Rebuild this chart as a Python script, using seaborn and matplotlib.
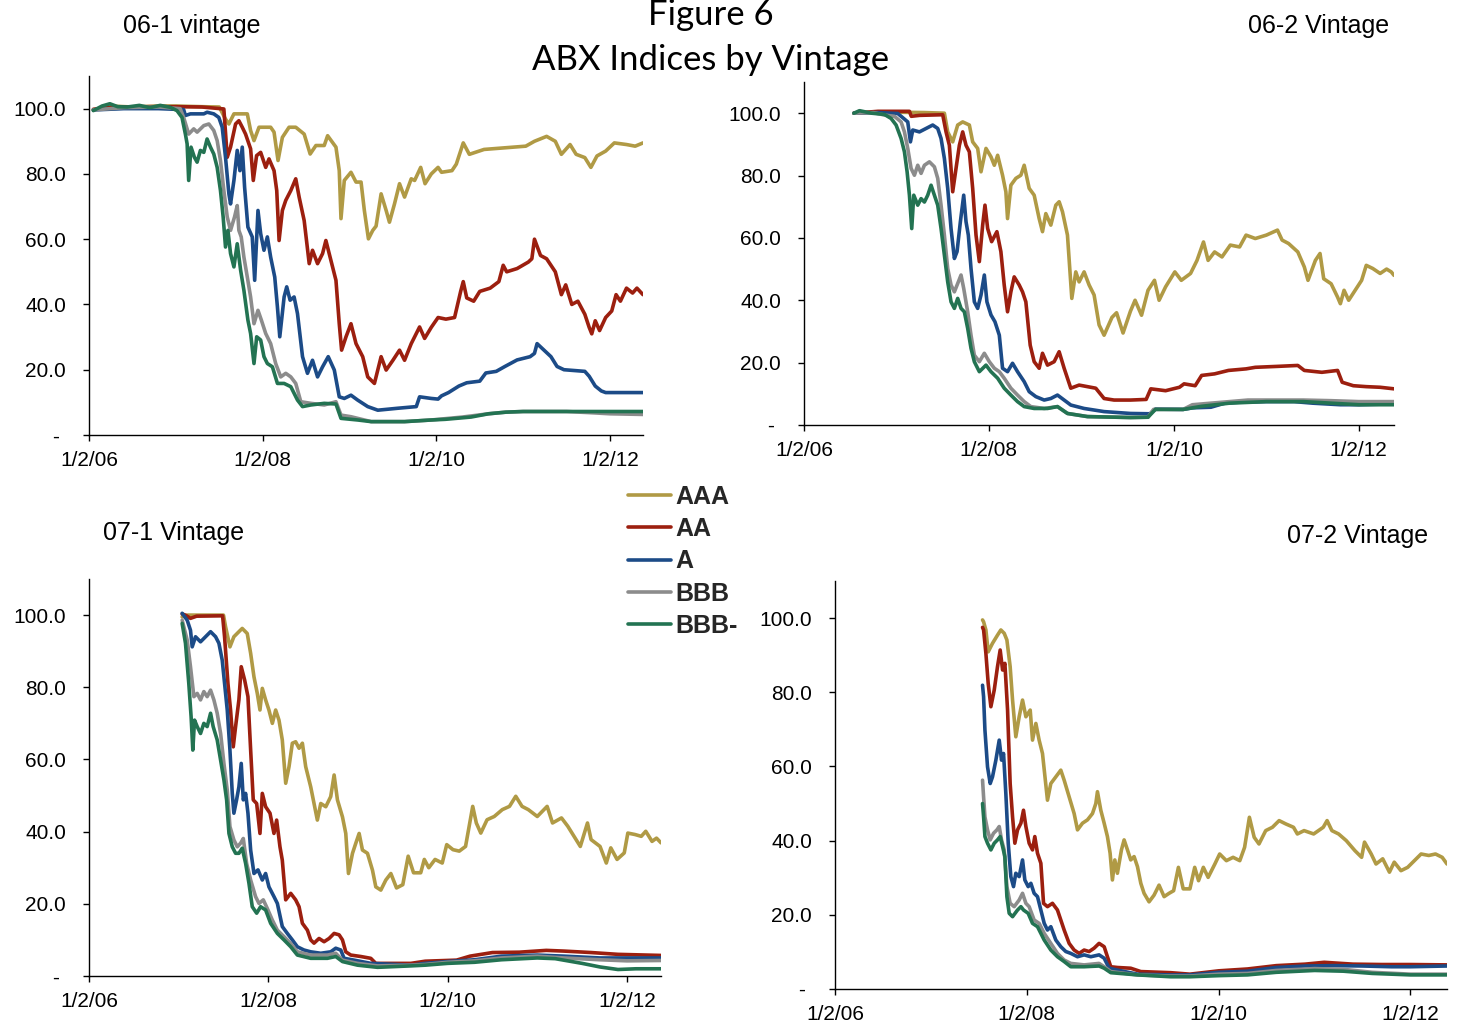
import matplotlib
matplotlib.use("Agg")
import matplotlib.pyplot as plt
import matplotlib.dates as mdates
from matplotlib.ticker import FuncFormatter, FixedLocator
import pandas as pd
import seaborn as sns

sns.set_theme(style="white")
plt.rcParams["font.family"] = ["Liberation Sans", "DejaVu Sans"]

# ---------------- data ----------------
SERIES = ["AAA", "AA", "A", "BBB", "BBB-"]
COLORS = ["#B09A45", "#9C1F0F", "#1C4B87", "#8C8C8C", "#237352"]
VINTAGES = ["06-1 vintage", "06-2 Vintage", "07-1 Vintage", "07-2 Vintage"]
TICK_DATES = ["2006-01-02", "2008-01-02", "2010-01-02", "2012-01-02"]
Y_TICKS = [0, 20, 40, 60, 80, 100]
SUPTITLE = ["Figure 6", "ABX Indices by Vintage"]
X_END = 2012.38  # last observation (decimal year)

# (decimal year, index price) pairs
P1_AAA = [(2006.05, 99.6), (2006.25, 100.8), (2006.5, 100.5), (2006.8, 100.8), (2007.0, 100.8), (2007.3, 100.6),
          (2007.5, 100.5), (2007.572, 96.8), (2007.611, 95.3), (2007.669, 98.4), (2007.823, 98.4), (2007.861, 93.3),
          (2007.9, 90.2), (2007.958, 94.3), (2008.092, 94.3), (2008.131, 92.8), (2008.177, 84.1), (2008.227, 91.2),
          (2008.304, 94.3), (2008.381, 94.3), (2008.478, 92.2), (2008.547, 86.1), (2008.613, 88.7), (2008.709, 88.7),
          (2008.748, 91.7), (2008.844, 88.2), (2008.882, 81.0), (2008.902, 66.3), (2008.94, 78.0), (2009.017, 80.5),
          (2009.075, 77.5), (2009.133, 77.5), (2009.171, 68.8), (2009.218, 60.1), (2009.268, 62.7), (2009.306, 64.0),
          (2009.364, 73.9), (2009.422, 68.8), (2009.46, 65.2), (2009.518, 70.8), (2009.576, 77.0), (2009.634, 72.9),
          (2009.711, 78.5), (2009.75, 78.0), (2009.82, 82.0), (2009.87, 77.0), (2009.942, 80.0), (2010.02, 82.0),
          (2010.06, 80.5), (2010.18, 81.0), (2010.23, 83.0), (2010.31, 89.5), (2010.38, 86.0), (2010.55, 87.5),
          (2010.79, 88.0), (2011.03, 88.5), (2011.13, 90.0), (2011.27, 91.5), (2011.37, 90.0), (2011.44, 86.0),
          (2011.54, 89.0), (2011.61, 86.0), (2011.71, 85.0), (2011.78, 82.0), (2011.85, 85.5), (2011.95, 87.0),
          (2012.05, 89.5), (2012.19, 89.0), (2012.29, 88.5), (2012.38, 89.5)]
P1_AA = [(2006.05, 99.8), (2006.3, 100.5), (2006.7, 100.6), (2007.0, 100.6), (2007.3, 100.5), (2007.553, 99.9),
         (2007.592, 85.1), (2007.63, 88.2), (2007.688, 95.3), (2007.726, 96.3), (2007.765, 94.3), (2007.803, 92.2),
         (2007.861, 87.7), (2007.892, 78.0), (2007.93, 85.6), (2007.977, 86.6), (2008.035, 82.0), (2008.073, 84.6),
         (2008.131, 81.0), (2008.162, 74.9), (2008.189, 59.6), (2008.227, 68.8), (2008.266, 71.9), (2008.324, 74.9),
         (2008.381, 78.5), (2008.42, 72.9), (2008.478, 65.7), (2008.536, 52.5), (2008.574, 56.6), (2008.632, 52.5),
         (2008.69, 55.6), (2008.728, 59.6), (2008.786, 53.5), (2008.844, 47.4), (2008.882, 34.1), (2008.909, 26.0),
         (2008.96, 30.1), (2009.017, 34.1), (2009.075, 28.0), (2009.152, 24.0), (2009.21, 17.8), (2009.287, 15.8),
         (2009.364, 24.0), (2009.422, 19.9), (2009.5, 22.9), (2009.576, 26.0), (2009.634, 22.9), (2009.711, 28.0),
         (2009.807, 33.1), (2009.865, 29.6), (2009.942, 33.0), (2010.02, 36.0), (2010.11, 35.5), (2010.21, 36.0),
         (2010.28, 44.0), (2010.31, 47.0), (2010.35, 42.0), (2010.43, 41.0), (2010.5, 44.0), (2010.62, 45.0),
         (2010.72, 47.0), (2010.77, 52.0), (2010.81, 50.0), (2010.93, 51.0), (2011.06, 53.0), (2011.1, 54.0),
         (2011.13, 60.0), (2011.2, 55.0), (2011.27, 54.0), (2011.37, 50.0), (2011.44, 43.0), (2011.49, 46.0),
         (2011.56, 40.0), (2011.63, 41.0), (2011.71, 37.0), (2011.76, 33.0), (2011.79, 31.0), (2011.83, 35.0),
         (2011.88, 32.0), (2011.95, 36.0), (2012.02, 38.0), (2012.07, 43.0), (2012.12, 41.0), (2012.19, 45.0),
         (2012.26, 43.5), (2012.31, 45.0), (2012.38, 43.0)]
P1_A = [(2006.05, 99.6), (2006.4, 100.0), (2006.8, 100.0), (2007.09, 99.7), (2007.11, 97.9), (2007.168, 98.4),
        (2007.322, 98.4), (2007.36, 98.9), (2007.437, 98.4), (2007.495, 97.3), (2007.534, 94.3), (2007.572, 85.1),
        (2007.611, 73.9), (2007.63, 70.8), (2007.669, 78.0), (2007.707, 87.2), (2007.738, 81.0), (2007.765, 88.2),
        (2007.792, 75.9), (2007.83, 63.7), (2007.88, 60.7), (2007.908, 47.4), (2007.946, 68.8), (2007.977, 61.7),
        (2008.015, 56.6), (2008.054, 60.7), (2008.092, 54.5), (2008.139, 48.4), (2008.17, 39.2), (2008.197, 30.1),
        (2008.247, 42.3), (2008.277, 45.4), (2008.316, 41.3), (2008.362, 42.3), (2008.401, 37.2), (2008.459, 24.0),
        (2008.516, 18.9), (2008.574, 22.9), (2008.632, 17.8), (2008.69, 20.9), (2008.755, 24.0), (2008.825, 19.9),
        (2008.882, 11.7), (2008.94, 11.2), (2009.017, 12.2), (2009.094, 10.7), (2009.21, 8.7), (2009.326, 7.6),
        (2009.557, 8.2), (2009.769, 8.7), (2009.807, 11.7), (2009.942, 11.2), (2010.02, 11.0), (2010.06, 12.0),
        (2010.14, 13.0), (2010.26, 15.0), (2010.35, 16.0), (2010.5, 16.5), (2010.57, 19.0), (2010.69, 19.5),
        (2010.79, 21.0), (2010.93, 23.0), (2011.08, 24.0), (2011.13, 25.0), (2011.16, 28.0), (2011.24, 26.0),
        (2011.32, 24.0), (2011.39, 21.0), (2011.47, 20.0), (2011.71, 19.5), (2011.76, 18.0), (2011.83, 15.0),
        (2011.9, 13.5), (2011.95, 13.0), (2012.38, 13.0)]
P1_BBB = [(2006.05, 99.6), (2006.4, 100.3), (2006.8, 100.5), (2007.05, 100.0), (2007.09, 97.3), (2007.148, 92.2),
          (2007.206, 93.8), (2007.245, 92.8), (2007.322, 94.8), (2007.38, 95.3), (2007.437, 93.3), (2007.476, 90.2),
          (2007.514, 84.1), (2007.553, 74.9), (2007.592, 66.8), (2007.63, 62.7), (2007.676, 66.8), (2007.707, 70.3),
          (2007.726, 62.7), (2007.753, 60.7), (2007.784, 54.5), (2007.823, 48.4), (2007.861, 42.3), (2007.9, 34.1),
          (2007.946, 38.2), (2007.985, 35.2), (2008.035, 31.1), (2008.092, 28.0), (2008.15, 21.9), (2008.208, 17.8),
          (2008.266, 18.9), (2008.324, 17.8), (2008.381, 15.8), (2008.439, 10.2), (2008.555, 9.7), (2008.709, 9.2),
          (2008.844, 10.2), (2008.902, 6.1), (2009.017, 5.6), (2009.249, 4.1), (2009.634, 4.1), (2009.942, 4.6),
          (2010.3, 5.5), (2010.6, 6.5), (2010.8, 7.0), (2011.0, 7.2), (2011.5, 7.2), (2011.8, 6.8), (2012.0, 6.5),
          (2012.38, 6.3)]
P1_BBBM = [(2006.05, 99.4), (2006.15, 100.8), (2006.24, 101.5), (2006.33, 100.6), (2006.44, 100.5), (2006.58, 101.0),
           (2006.7, 100.3), (2006.82, 101.0), (2006.936, 100.4), (2007.013, 99.4), (2007.071, 97.3), (2007.11, 92.2),
           (2007.13, 89.2), (2007.148, 78.0), (2007.175, 88.2), (2007.214, 85.1), (2007.245, 83.6), (2007.283, 87.2),
           (2007.322, 86.6), (2007.36, 90.7), (2007.399, 88.2), (2007.437, 86.1), (2007.476, 82.0), (2007.514, 74.9),
           (2007.545, 66.8), (2007.572, 57.6), (2007.6, 62.7), (2007.63, 55.6), (2007.669, 51.5), (2007.707, 58.6),
           (2007.746, 50.5), (2007.784, 44.3), (2007.83, 35.2), (2007.861, 31.1), (2007.9, 21.9), (2007.931, 30.1),
           (2007.977, 29.1), (2008.015, 24.0), (2008.054, 21.9), (2008.112, 20.9), (2008.17, 15.8), (2008.247, 15.8),
           (2008.324, 14.8), (2008.401, 10.7), (2008.459, 8.7), (2008.555, 9.2), (2008.709, 9.7), (2008.844, 9.5),
           (2008.902, 5.1), (2009.094, 4.6), (2009.249, 4.1), (2009.634, 4.1), (2009.942, 4.6), (2010.1, 4.8),
           (2010.4, 5.5), (2010.6, 6.5), (2010.8, 7.0), (2011.0, 7.2), (2012.38, 7.2)]

P2_AAA = [(2006.54, 100.0), (2006.8, 100.3), (2007.0, 100.3), (2007.3, 100.2), (2007.518, 100.0), (2007.554, 94.0),
          (2007.608, 90.8), (2007.662, 96.2), (2007.716, 97.2), (2007.788, 96.2), (2007.824, 90.8), (2007.878, 88.7),
          (2007.914, 81.2), (2007.968, 88.7), (2008.022, 86.0), (2008.058, 83.3), (2008.094, 86.5), (2008.147, 80.1),
          (2008.183, 74.8), (2008.201, 66.2), (2008.237, 76.9), (2008.291, 79.1), (2008.345, 80.1), (2008.381, 83.3),
          (2008.435, 75.9), (2008.489, 73.7), (2008.543, 66.2), (2008.579, 62.0), (2008.615, 67.8), (2008.669, 64.1),
          (2008.723, 70.5), (2008.759, 71.6), (2008.795, 68.4), (2008.849, 60.9), (2008.896, 40.6), (2008.939, 49.1),
          (2008.975, 45.9), (2009.029, 49.1), (2009.083, 44.9), (2009.137, 41.7), (2009.191, 32.1), (2009.245, 28.8),
          (2009.33, 34.5), (2009.38, 36.0), (2009.45, 29.5), (2009.53, 36.5), (2009.58, 40.0), (2009.65, 35.2),
          (2009.72, 43.2), (2009.79, 46.4), (2009.84, 40.0), (2009.91, 44.3), (2010.01, 49.1), (2010.08, 46.4),
          (2010.18, 48.6), (2010.25, 52.8), (2010.32, 58.7), (2010.37, 52.8), (2010.44, 55.5), (2010.52, 53.9),
          (2010.61, 57.7), (2010.71, 57.1), (2010.78, 60.9), (2010.88, 59.8), (2011.0, 60.9), (2011.12, 62.5),
          (2011.17, 59.3), (2011.24, 58.2), (2011.34, 55.5), (2011.41, 50.7), (2011.45, 46.4), (2011.53, 52.8),
          (2011.58, 55.0), (2011.62, 46.9), (2011.7, 45.3), (2011.77, 41.0), (2011.8, 38.9), (2011.84, 43.2),
          (2011.89, 40.0), (2011.96, 43.2), (2012.03, 46.4), (2012.08, 51.2), (2012.15, 50.2), (2012.23, 48.6),
          (2012.3, 50.0), (2012.35, 49.1), (2012.38, 48.0)]
P2_AA = [(2006.54, 100.0), (2006.8, 100.6), (2007.14, 100.6), (2007.16, 99.0), (2007.25, 99.3), (2007.5, 99.5),
         (2007.536, 94.0), (2007.572, 89.7), (2007.608, 74.8), (2007.644, 82.3), (2007.68, 89.7), (2007.716, 94.0),
         (2007.752, 89.7), (2007.788, 87.6), (2007.824, 75.9), (2007.86, 60.9), (2007.896, 52.4), (2007.932, 64.1),
         (2007.957, 70.5), (2007.986, 63.0), (2008.029, 58.8), (2008.086, 62.0), (2008.129, 55.6), (2008.165, 44.9),
         (2008.201, 36.3), (2008.237, 42.7), (2008.273, 47.5), (2008.327, 44.9), (2008.363, 42.7), (2008.399, 39.5),
         (2008.446, 25.6), (2008.489, 20.3), (2008.543, 18.2), (2008.579, 23.0), (2008.633, 19.2), (2008.705, 20.3),
         (2008.759, 23.5), (2008.813, 18.2), (2008.885, 11.8), (2008.975, 12.8), (2009.065, 12.3), (2009.155, 11.8),
         (2009.245, 8.5), (2009.353, 8.0), (2009.53, 8.0), (2009.7, 8.2), (2009.75, 11.6), (2009.91, 11.0),
         (2010.06, 12.1), (2010.11, 13.2), (2010.23, 12.6), (2010.3, 15.9), (2010.44, 16.4), (2010.59, 17.5),
         (2010.78, 18.0), (2010.88, 18.5), (2011.12, 18.8), (2011.34, 19.1), (2011.41, 17.5), (2011.6, 16.9),
         (2011.77, 17.5), (2011.82, 13.7), (2011.94, 12.6), (2012.08, 12.3), (2012.23, 12.1), (2012.38, 11.6)]
P2_A = [(2006.54, 100.0), (2006.8, 100.2), (2007.014, 99.9), (2007.122, 97.2), (2007.151, 90.8), (2007.176, 94.6),
        (2007.248, 94.0), (2007.32, 95.1), (2007.392, 96.2), (2007.446, 95.1), (2007.482, 91.9), (2007.518, 85.5),
        (2007.554, 75.9), (2007.59, 63.0), (2007.626, 53.4), (2007.655, 55.6), (2007.691, 65.2), (2007.727, 73.7),
        (2007.752, 65.2), (2007.777, 60.9), (2007.806, 50.2), (2007.842, 39.5), (2007.878, 37.4), (2007.914, 41.7),
        (2007.95, 48.1), (2007.978, 39.5), (2008.022, 35.3), (2008.065, 33.1), (2008.112, 28.8), (2008.147, 18.2),
        (2008.201, 17.1), (2008.255, 19.8), (2008.309, 17.1), (2008.381, 13.9), (2008.435, 10.7), (2008.507, 9.1),
        (2008.597, 8.0), (2008.669, 8.5), (2008.741, 9.6), (2008.813, 8.0), (2008.885, 6.4), (2009.029, 5.3),
        (2009.245, 4.3), (2009.53, 3.7), (2009.74, 3.6), (2009.8, 5.1), (2010.1, 5.0), (2010.2, 5.5), (2010.4, 5.7),
        (2010.55, 7.0), (2010.7, 7.3), (2011.0, 7.5), (2011.3, 7.5), (2011.5, 7.0), (2011.8, 6.5), (2012.0, 6.5),
        (2012.38, 6.8)]
P2_BBB = [(2006.54, 100.0), (2006.75, 100.2), (2006.87, 99.4), (2006.978, 99.0), (2007.05, 97.2), (2007.086, 94.0),
          (2007.122, 88.7), (2007.158, 82.3), (2007.194, 80.1), (2007.23, 83.3), (2007.266, 80.7), (2007.302, 83.3),
          (2007.356, 84.4), (2007.41, 82.8), (2007.446, 79.1), (2007.482, 70.5), (2007.518, 60.9), (2007.554, 50.2),
          (2007.59, 44.9), (2007.626, 42.7), (2007.669, 45.9), (2007.698, 48.1), (2007.727, 43.8), (2007.77, 36.3),
          (2007.806, 28.8), (2007.842, 22.4), (2007.896, 20.3), (2007.95, 23.0), (2008.004, 20.3), (2008.058, 18.2),
          (2008.112, 17.1), (2008.165, 15.0), (2008.237, 11.8), (2008.309, 9.6), (2008.381, 7.5), (2008.453, 5.9),
          (2008.597, 5.3), (2008.741, 5.9), (2008.849, 3.7), (2009.065, 2.7), (2009.53, 2.4), (2009.72, 2.5),
          (2009.78, 5.0), (2010.1, 5.0), (2010.2, 6.5), (2010.4, 7.0), (2010.6, 7.5), (2010.8, 8.0), (2011.4, 8.0),
          (2011.7, 7.8), (2012.0, 7.5), (2012.38, 7.5)]
P2_BBBM = [(2006.54, 100.0), (2006.6, 100.8), (2006.73, 100.0), (2006.87, 99.6), (2006.942, 98.3), (2006.996, 96.2),
           (2007.05, 91.9), (2007.086, 87.6), (2007.115, 81.2), (2007.14, 73.7), (2007.165, 63.0), (2007.187, 73.7),
           (2007.23, 70.5), (2007.266, 72.6), (2007.302, 71.5), (2007.338, 73.7), (2007.374, 76.9), (2007.41, 73.7),
           (2007.446, 70.5), (2007.482, 63.0), (2007.518, 54.5), (2007.554, 45.9), (2007.59, 39.5), (2007.626, 37.4),
           (2007.662, 40.6), (2007.698, 37.4), (2007.734, 36.3), (2007.77, 31.0), (2007.806, 24.6), (2007.842, 20.3),
           (2007.896, 17.1), (2007.968, 19.2), (2008.022, 17.1), (2008.094, 15.0), (2008.165, 11.8), (2008.237, 9.6),
           (2008.309, 7.5), (2008.381, 5.9), (2008.489, 5.3), (2008.633, 5.3), (2008.741, 5.9), (2008.849, 3.7),
           (2009.065, 2.7), (2009.53, 2.4), (2009.72, 2.5), (2009.8, 5.0), (2010.1, 5.0), (2010.3, 6.0),
           (2010.6, 7.0), (2011.0, 7.5), (2011.4, 7.5), (2011.7, 7.0), (2012.0, 6.5), (2012.38, 6.5)]

P3_AAA = [(2007.039, 99.5), (2007.1, 100.0), (2007.3, 100.0), (2007.5, 100.0), (2007.523, 96.8), (2007.572, 91.2),
          (2007.616, 94.0), (2007.672, 95.4), (2007.709, 96.3), (2007.765, 94.9), (2007.803, 89.4), (2007.84, 82.9),
          (2007.877, 78.3), (2007.907, 73.7), (2007.933, 79.7), (2007.97, 76.5), (2008.007, 73.7), (2008.045, 70.0),
          (2008.082, 73.7), (2008.119, 70.9), (2008.156, 65.4), (2008.194, 53.4), (2008.231, 58.0), (2008.268, 64.5),
          (2008.305, 64.9), (2008.343, 63.1), (2008.38, 64.5), (2008.417, 58.0), (2008.473, 52.4), (2008.547, 43.2),
          (2008.585, 47.8), (2008.641, 46.9), (2008.696, 49.7), (2008.734, 55.7), (2008.771, 48.8), (2008.827, 44.1),
          (2008.864, 39.5), (2008.894, 28.4), (2008.939, 34.0), (2008.976, 36.8), (2009.013, 39.5), (2009.05, 34.9),
          (2009.106, 34.0), (2009.162, 29.3), (2009.199, 24.7), (2009.255, 23.8), (2009.311, 26.6), (2009.367, 28.4),
          (2009.43, 24.4), (2009.5, 25.3), (2009.56, 33.2), (2009.62, 28.6), (2009.7, 28.6), (2009.74, 32.3),
          (2009.79, 30.0), (2009.86, 32.3), (2009.94, 31.3), (2009.99, 36.4), (2010.06, 35.0), (2010.13, 34.6),
          (2010.2, 35.9), (2010.28, 47.0), (2010.32, 42.4), (2010.37, 39.6), (2010.44, 43.3), (2010.52, 44.2),
          (2010.61, 46.1), (2010.69, 47.0), (2010.76, 49.8), (2010.83, 47.0), (2010.9, 46.1), (2011.0, 44.2),
          (2011.11, 47.0), (2011.17, 42.4), (2011.27, 43.8), (2011.34, 41.5), (2011.41, 38.7), (2011.48, 35.9),
          (2011.56, 42.4), (2011.6, 37.8), (2011.7, 35.9), (2011.77, 31.3), (2011.82, 35.5), (2011.89, 32.3),
          (2011.97, 34.1), (2012.01, 39.6), (2012.09, 39.2), (2012.16, 38.7), (2012.21, 40.1), (2012.28, 37.3),
          (2012.33, 38.2), (2012.38, 36.9)]
P3_AA = [(2007.039, 100.3), (2007.076, 100.0), (2007.132, 99.1), (2007.2, 99.7), (2007.49, 99.8), (2007.512, 94.0),
         (2007.55, 81.0), (2007.579, 73.7), (2007.609, 63.5), (2007.635, 69.1), (2007.672, 76.5), (2007.698, 85.7),
         (2007.736, 82.0), (2007.773, 77.4), (2007.803, 62.6), (2007.832, 48.8), (2007.87, 47.8), (2007.907, 39.5),
         (2007.933, 50.6), (2007.97, 46.9), (2008.019, 45.1), (2008.063, 39.5), (2008.093, 43.2), (2008.13, 35.8),
         (2008.156, 32.1), (2008.194, 21.1), (2008.25, 22.9), (2008.305, 21.1), (2008.343, 19.2), (2008.38, 14.6),
         (2008.436, 12.7), (2008.473, 10.0), (2008.51, 9.1), (2008.566, 10.4), (2008.622, 9.5), (2008.678, 10.4),
         (2008.734, 11.8), (2008.79, 11.4), (2008.827, 10.0), (2008.864, 6.7), (2008.92, 5.8), (2009.032, 5.4),
         (2009.143, 4.9), (2009.199, 3.5), (2009.59, 3.5), (2009.75, 4.1), (2010.1, 4.4), (2010.25, 5.5),
         (2010.5, 6.5), (2010.8, 6.6), (2011.1, 7.1), (2011.3, 6.9), (2011.6, 6.5), (2011.9, 6.0), (2012.38, 5.7)]
P3_A = [(2007.039, 100.5), (2007.095, 98.6), (2007.132, 95.8), (2007.151, 91.2), (2007.188, 94.0), (2007.244, 92.6),
        (2007.3, 94.0), (2007.356, 95.4), (2007.412, 94.0), (2007.449, 92.2), (2007.486, 87.5), (2007.512, 81.1),
        (2007.542, 73.7), (2007.572, 62.6), (2007.598, 50.6), (2007.616, 45.1), (2007.646, 48.8), (2007.672, 52.4),
        (2007.698, 58.9), (2007.721, 48.8), (2007.747, 50.6), (2007.773, 45.1), (2007.803, 34.9), (2007.84, 28.4),
        (2007.885, 29.4), (2007.933, 26.6), (2007.97, 28.4), (2008.007, 24.7), (2008.063, 22.0), (2008.101, 20.1),
        (2008.156, 13.7), (2008.212, 11.8), (2008.268, 10.0), (2008.324, 8.1), (2008.398, 7.2), (2008.473, 6.7),
        (2008.585, 6.3), (2008.696, 6.7), (2008.752, 7.7), (2008.808, 7.2), (2008.845, 4.9), (2008.957, 4.4),
        (2009.143, 3.5), (2009.59, 3.0), (2009.75, 3.5), (2010.0, 4.0), (2010.3, 4.5), (2010.6, 5.5), (2011.0, 5.8),
        (2011.3, 5.5), (2011.7, 5.0), (2012.38, 5.0)]
P3_BBB = [(2007.039, 98.6), (2007.095, 93.1), (2007.132, 85.7), (2007.17, 77.4), (2007.207, 78.3), (2007.244, 76.5),
          (2007.281, 78.8), (2007.318, 77.4), (2007.356, 79.2), (2007.393, 76.5), (2007.43, 72.8), (2007.468, 67.2),
          (2007.505, 58.9), (2007.542, 51.5), (2007.572, 41.4), (2007.616, 37.7), (2007.654, 35.8), (2007.691, 36.8),
          (2007.721, 38.1), (2007.758, 31.2), (2007.803, 26.6), (2007.858, 22.0), (2007.896, 20.1), (2007.944, 21.1),
          (2007.989, 18.7), (2008.045, 15.5), (2008.101, 12.7), (2008.175, 10.9), (2008.25, 9.0), (2008.324, 6.7),
          (2008.473, 5.8), (2008.659, 5.8), (2008.752, 6.3), (2008.827, 4.4), (2008.995, 3.5), (2009.218, 2.8),
          (2009.59, 3.0), (2009.75, 3.2), (2010.0, 3.8), (2010.3, 4.2), (2010.6, 5.0), (2011.0, 5.5), (2011.3, 5.0),
          (2011.7, 4.5), (2012.0, 4.2), (2012.38, 4.3)]
P3_BBBM = [(2007.039, 97.7), (2007.076, 92.2), (2007.113, 81.1), (2007.139, 71.8), (2007.158, 62.6), (2007.177, 70.9),
           (2007.207, 69.1), (2007.244, 67.2), (2007.281, 70.0), (2007.318, 69.1), (2007.356, 72.8), (2007.385, 69.1),
           (2007.43, 65.4), (2007.468, 59.8), (2007.505, 54.3), (2007.535, 48.8), (2007.561, 39.5), (2007.598, 35.8),
           (2007.635, 34.0), (2007.672, 34.0), (2007.709, 35.4), (2007.747, 31.2), (2007.784, 25.7), (2007.821, 19.2),
           (2007.87, 17.4), (2007.914, 19.2), (2007.97, 18.3), (2008.026, 14.6), (2008.101, 11.8), (2008.175, 10.0),
           (2008.25, 8.1), (2008.324, 5.8), (2008.473, 4.9), (2008.659, 4.9), (2008.752, 5.4), (2008.827, 4.0),
           (2008.995, 3.0), (2009.218, 2.4), (2009.59, 2.8), (2009.75, 3.0), (2010.0, 3.5), (2010.3, 3.8),
           (2010.6, 4.5), (2011.0, 5.0), (2011.2, 4.8), (2011.5, 3.5), (2011.7, 2.5), (2011.9, 1.8), (2012.1, 2.0),
           (2012.38, 2.0)]

P4_AAA = [(2007.538, 99.5), (2007.549, 99.0), (2007.573, 96.8), (2007.597, 90.9), (2007.642, 93.2), (2007.694, 95.4),
          (2007.729, 96.8), (2007.764, 95.9), (2007.792, 94.1), (2007.826, 86.9), (2007.851, 77.9), (2007.885, 68.0),
          (2007.92, 73.4), (2007.955, 77.9), (2007.99, 73.4), (2008.035, 75.2), (2008.059, 67.1), (2008.094, 71.6),
          (2008.128, 67.1), (2008.163, 63.5), (2008.215, 50.9), (2008.25, 55.4), (2008.302, 57.2), (2008.354, 59.0),
          (2008.389, 56.3), (2008.441, 51.8), (2008.493, 47.3), (2008.528, 42.9), (2008.58, 44.7), (2008.632, 45.6),
          (2008.684, 47.3), (2008.719, 50.0), (2008.736, 53.2), (2008.771, 48.2), (2008.806, 44.7), (2008.84, 41.1),
          (2008.868, 36.6), (2008.892, 29.4), (2008.917, 34.8), (2008.944, 31.2), (2008.986, 37.5), (2009.014, 40.2),
          (2009.049, 37.5), (2009.083, 34.8), (2009.118, 35.7), (2009.153, 33.0), (2009.188, 28.5), (2009.222, 25.8),
          (2009.274, 23.5), (2009.326, 25.3), (2009.378, 28.0), (2009.431, 24.9), (2009.483, 25.8), (2009.53, 26.5),
          (2009.58, 32.8), (2009.63, 27.0), (2009.7, 27.0), (2009.75, 32.8), (2009.79, 29.2), (2009.84, 32.8),
          (2009.89, 30.1), (2009.96, 33.7), (2010.01, 36.4), (2010.08, 34.6), (2010.15, 35.5), (2010.22, 34.6),
          (2010.27, 38.2), (2010.32, 46.3), (2010.37, 40.9), (2010.42, 39.1), (2010.49, 42.7), (2010.56, 43.6),
          (2010.63, 45.4), (2010.7, 44.5), (2010.78, 43.6), (2010.82, 41.8), (2010.89, 42.7), (2010.99, 41.8),
          (2011.09, 43.6), (2011.13, 45.4), (2011.18, 42.7), (2011.25, 41.8), (2011.33, 40.0), (2011.42, 37.3),
          (2011.49, 35.5), (2011.52, 39.6), (2011.59, 36.4), (2011.64, 33.7), (2011.71, 35.1), (2011.78, 31.5),
          (2011.83, 34.2), (2011.9, 31.9), (2011.97, 32.8), (2012.04, 34.6), (2012.11, 36.4), (2012.19, 36.0),
          (2012.26, 36.4), (2012.33, 35.5), (2012.38, 33.7)]
P4_AA = [(2007.538, 97.5), (2007.549, 96.8), (2007.573, 90.5), (2007.597, 82.4), (2007.625, 76.1), (2007.66, 80.6),
         (2007.694, 86.9), (2007.722, 91.4), (2007.747, 86.0), (2007.771, 87.8), (2007.799, 75.2), (2007.826, 55.4),
         (2007.851, 46.4), (2007.875, 39.3), (2007.903, 42.9), (2007.938, 44.7), (2007.965, 48.2), (2007.99, 43.8),
         (2008.024, 39.3), (2008.059, 37.5), (2008.083, 41.1), (2008.111, 36.6), (2008.146, 33.9), (2008.174, 23.1),
         (2008.215, 22.2), (2008.267, 23.1), (2008.319, 21.3), (2008.354, 18.6), (2008.389, 15.9), (2008.441, 12.3),
         (2008.493, 10.5), (2008.545, 9.6), (2008.597, 10.5), (2008.649, 10.1), (2008.701, 11.0), (2008.753, 12.3),
         (2008.806, 11.4), (2008.84, 8.7), (2008.875, 6.0), (2008.944, 5.8), (2009.083, 5.6), (2009.188, 4.7),
         (2009.5, 4.4), (2009.7, 4.0), (2010.0, 4.9), (2010.3, 5.4), (2010.6, 6.3), (2010.9, 6.7), (2011.1, 7.2),
         (2011.4, 6.7), (2011.7, 6.6), (2012.0, 6.6), (2012.38, 6.5)]
P4_A = [(2007.538, 81.9), (2007.549, 78.8), (2007.563, 69.8), (2007.59, 59.9), (2007.618, 55.4), (2007.642, 57.2),
        (2007.677, 61.7), (2007.712, 67.1), (2007.736, 61.7), (2007.757, 63.5), (2007.781, 52.7), (2007.806, 39.3),
        (2007.833, 30.3), (2007.861, 27.6), (2007.885, 31.2), (2007.92, 30.3), (2007.955, 34.8), (2007.979, 29.4),
        (2008.014, 27.6), (2008.042, 28.5), (2008.076, 25.8), (2008.111, 24.9), (2008.146, 21.3), (2008.181, 17.7),
        (2008.215, 15.9), (2008.25, 16.8), (2008.302, 13.2), (2008.354, 11.4), (2008.406, 10.1), (2008.458, 9.6),
        (2008.528, 8.7), (2008.597, 9.2), (2008.667, 8.7), (2008.753, 9.2), (2008.806, 8.3), (2008.858, 5.6),
        (2008.944, 5.1), (2009.153, 4.0), (2009.5, 3.8), (2009.7, 3.8), (2010.0, 4.5), (2010.3, 4.8), (2010.6, 5.8),
        (2010.9, 6.2), (2011.2, 6.3), (2011.5, 6.2), (2011.8, 6.0), (2012.0, 6.0), (2012.38, 6.2)]
P4_BBB = [(2007.538, 56.3), (2007.549, 51.8), (2007.563, 46.4), (2007.59, 42.9), (2007.618, 40.2), (2007.653, 42.0),
          (2007.688, 42.9), (2007.712, 43.8), (2007.736, 40.2), (2007.764, 37.5), (2007.792, 27.6), (2007.826, 23.1),
          (2007.868, 22.2), (2007.92, 24.0), (2007.955, 25.8), (2007.99, 23.1), (2008.024, 22.2), (2008.076, 18.6),
          (2008.128, 17.7), (2008.181, 15.0), (2008.25, 12.3), (2008.319, 9.6), (2008.389, 7.8), (2008.458, 6.9),
          (2008.597, 6.5), (2008.753, 6.9), (2008.806, 6.0), (2008.875, 4.7), (2009.153, 3.8), (2009.5, 3.5),
          (2009.7, 3.5), (2010.0, 4.0), (2010.3, 4.2), (2010.6, 5.0), (2011.0, 5.5), (2011.3, 5.3), (2011.6, 4.5),
          (2012.0, 4.0), (2012.38, 4.0)]
P4_BBBM = [(2007.538, 50.0), (2007.549, 46.4), (2007.563, 41.1), (2007.59, 39.3), (2007.625, 37.5), (2007.66, 39.3),
           (2007.694, 40.2), (2007.722, 41.1), (2007.747, 38.4), (2007.771, 35.7), (2007.792, 24.9), (2007.816, 20.4),
           (2007.851, 19.5), (2007.903, 21.3), (2007.938, 22.2), (2007.965, 21.3), (2008.014, 20.4), (2008.059, 17.7),
           (2008.111, 16.8), (2008.181, 13.2), (2008.25, 10.5), (2008.319, 8.7), (2008.389, 7.4), (2008.458, 6.0),
           (2008.597, 6.0), (2008.753, 6.2), (2008.806, 5.6), (2008.875, 4.4), (2009.153, 3.8), (2009.5, 3.3),
           (2009.7, 3.3), (2010.0, 3.6), (2010.3, 3.8), (2010.6, 4.5), (2011.0, 5.0), (2011.3, 4.8), (2011.6, 4.2),
           (2012.0, 3.8), (2012.38, 3.8)]

PANELS = [
    [P1_AAA, P1_AA, P1_A, P1_BBB, P1_BBBM],
    [P2_AAA, P2_AA, P2_A, P2_BBB, P2_BBBM],
    [P3_AAA, P3_AA, P3_A, P3_BBB, P3_BBBM],
    [P4_AAA, P4_AA, P4_A, P4_BBB, P4_BBBM],
]

# ---------------- helpers ----------------
BASE = pd.Timestamp("2006-01-02")


def to_date(t):
    return BASE + pd.to_timedelta((t - 2006.0) * 365.25, unit="D")


def panel_frame(series_lists):
    rows = []
    for name, pts in zip(SERIES, series_lists):
        for t, v in pts:
            rows.append({"date": to_date(t), "value": v, "series": name})
    return pd.DataFrame(rows)


def fmt_y(v, pos):
    if abs(v) < 1e-9:
        return "- "
    return f"{v:.1f}"


def fmt_x(v, pos):
    d = mdates.num2date(v)
    return f"{d.month}/{d.day}/{d:%y}"


# ---------------- layout ----------------
W, H = 1459, 1029
fig = plt.figure(figsize=(W / 100, H / 100), dpi=100)
fig.patch.set_facecolor("white")

# (left, top, right, bottom) in pixels
BOXES = [(89, 76, 643, 435), (804, 82, 1394, 425), (89, 579, 661, 976), (835, 581, 1447, 989)]
TITLE_POS = [(123, 26), (1248, 26), (103, 533), (1287, 536)]

palette = dict(zip(SERIES, COLORS))
handles = labels = None
for i, (box, series_lists) in enumerate(zip(BOXES, PANELS)):
    l, t, r, b = box
    ax = fig.add_axes([l / W, 1 - b / H, (r - l) / W, (b - t) / H])
    df = panel_frame(series_lists)
    sns.lineplot(data=df, x="date", y="value", hue="series", hue_order=SERIES, palette=palette,
                 estimator=None, linewidth=2.6, ax=ax, legend=(i == 0),
                 solid_joinstyle="round", solid_capstyle="round")
    if i == 0:
        handles, labels = ax.get_legend_handles_labels()
        ax.get_legend().remove()
    ax.set_xlim(BASE, to_date(X_END))
    ax.set_ylim(0, 110)
    ax.yaxis.set_major_locator(FixedLocator(Y_TICKS))
    ax.yaxis.set_major_formatter(FuncFormatter(fmt_y))
    ax.xaxis.set_major_locator(FixedLocator([mdates.date2num(pd.Timestamp(d)) for d in TICK_DATES]))
    ax.xaxis.set_major_formatter(FuncFormatter(fmt_x))
    ax.set_xlabel("")
    ax.set_ylabel("")
    ax.set_facecolor("white")
    ax.grid(False)
    for s in ["top", "right"]:
        ax.spines[s].set_visible(False)
    for s in ["left", "bottom"]:
        ax.spines[s].set_color("black")
        ax.spines[s].set_linewidth(1.0)
    ax.tick_params(axis="both", direction="out", length=4.5, width=1, color="black",
                   labelsize=15, labelcolor="black", bottom=True, left=True)
    ax.tick_params(axis="y", pad=12)
    ax.tick_params(axis="x", pad=7)
    tx, ty = TITLE_POS[i]
    fig.text(tx / W, 1 - ty / H, VINTAGES[i], ha="left", va="center", fontsize=18, color="black")

fig.text(711 / W, 1 - 15 / H, SUPTITLE[0], ha="center", va="center", fontsize=25,
         family=["Lato", "DejaVu Sans"], color="black")
fig.text(711 / W, 1 - 60 / H, SUPTITLE[1], ha="center", va="center", fontsize=25,
         family=["Lato", "DejaVu Sans"], color="black")

fig.legend(handles, labels, loc="upper left", bbox_to_anchor=(628 / W, 1 - 485 / H),
           frameon=False, prop={"weight": "bold", "size": 18}, handlelength=1.7,
           handletextpad=0.2, labelspacing=0.33, borderpad=0, borderaxespad=0)

fig.savefig("out.png", dpi=100, facecolor="white")
